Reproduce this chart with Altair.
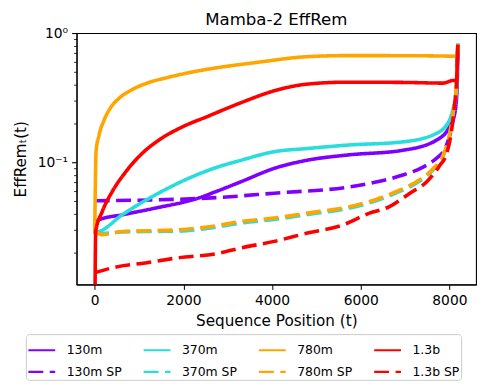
import altair as alt
import pandas as pd

# ---- data ----
t_130m = [0, 96, 618, 1366, 2336, 2710, 3306, 4054, 4800, 5700, 6950, 7700, 8000, 8120, 8170, 8191]
v_130m = [0.034, 0.036, 0.0393, 0.0443, 0.0529, 0.059, 0.071, 0.090, 0.104, 0.114, 0.124, 0.148, 0.188, 0.238, 0.35, 0.82]

t_130m_sp = [0, 1900, 2750, 4050, 5700, 6200, 6950, 7350, 7700, 7860, 7980, 8070, 8150, 8191]
v_130m_sp = [0.0505, 0.0519, 0.0534, 0.0578, 0.0643, 0.0689, 0.0798, 0.090, 0.107, 0.121, 0.15, 0.2, 0.35, 0.82]

t_370m = [0, 96, 618, 1366, 2336, 2710, 3306, 4054, 4800, 5700, 6950, 7700, 8000, 8085, 8150, 8191]
v_370m = [0.0288, 0.0292, 0.0393, 0.056, 0.081, 0.0905, 0.104, 0.121, 0.128, 0.136, 0.144, 0.167, 0.211, 0.26, 0.33, 0.83]

t_370m_sp = [0, 170, 620, 1890, 2750, 3300, 4050, 4800, 5700, 6200, 6800, 7260, 7640, 7860, 8000, 8090, 8160, 8191]
v_370m_sp = [0.0296, 0.0282, 0.0290, 0.0294, 0.0316, 0.0340, 0.0362, 0.0395, 0.0440, 0.0486, 0.0580, 0.0692, 0.088, 0.112, 0.16, 0.25, 0.42, 0.83]

t_780m = [0, 30, 96, 208, 358, 544, 842, 1216, 1664, 2336, 2710, 3680, 4800, 5700, 7000, 8120, 8160, 8191]
v_780m = [0.028, 0.121, 0.162, 0.211, 0.265, 0.312, 0.365, 0.414, 0.455, 0.510, 0.536, 0.594, 0.657, 0.669, 0.668, 0.661, 0.66, 0.82]

t_780m_sp = [0, 170, 620, 1890, 2750, 3300, 4050, 4800, 5700, 6200, 6800, 7260, 7640, 7860, 8000, 8090, 8160, 8191]
v_780m_sp = [0.0296, 0.0276, 0.0292, 0.0301, 0.0324, 0.0349, 0.0371, 0.0405, 0.0451, 0.0498, 0.0594, 0.0709, 0.090, 0.114, 0.162, 0.25, 0.40, 0.82]

t_13b = [0, 22, 170, 394, 694, 1066, 1514, 1962, 2564, 3306, 4054, 4800, 5700, 7000, 7860, 8085, 8160, 8191]
v_13b = [0.004, 0.0292, 0.0417, 0.0594, 0.0840, 0.117, 0.154, 0.187, 0.228, 0.290, 0.358, 0.403, 0.417, 0.415, 0.41, 0.43, 0.43, 0.81]

t_13b_sp = [0, 395, 1140, 1890, 2750, 3300, 4050, 4800, 5550, 6200, 6650, 7110, 7490, 7790, 7940, 8050, 8115, 8165, 8191]
v_13b_sp = [0.0140, 0.0153, 0.0167, 0.0183, 0.0197, 0.0218, 0.0245, 0.0284, 0.0324, 0.0405, 0.0455, 0.0578, 0.0709, 0.0953, 0.117, 0.177, 0.276, 0.42, 0.81]

series_names = ["130m", "130m SP", "370m", "370m SP", "780m", "780m SP", "1.3b", "1.3b SP"]
series_t = [t_130m, t_130m_sp, t_370m, t_370m_sp, t_780m, t_780m_sp, t_13b, t_13b_sp]
series_v = [v_130m, v_130m_sp, v_370m, v_370m_sp, v_780m, v_780m_sp, v_13b, v_13b_sp]

series_colors = ["#8000ff", "#8000ff", "#2adddd", "#2adddd",
                 "#ffa500", "#ffa500", "#ff0000", "#ff0000"]
series_dashes = [[1, 0], [15, 6.5], [1, 0], [15, 6.5],
                 [1, 0], [15, 6.5], [1, 0], [15, 6.5]]

rows = []
for k, (name, ts, vs) in enumerate(zip(series_names, series_t, series_v)):
    for i, (t, v) in enumerate(zip(ts, vs)):
        rows.append({"t": t, "v": v, "series": name, "draw": k, "idx": i})
df = pd.DataFrame(rows)

y_ticks = [0.02, 0.03, 0.04, 0.05, 0.06, 0.07, 0.08, 0.09,
           0.2, 0.3, 0.4, 0.5, 0.6, 0.7, 0.8, 0.9, 0.1, 1.0]

FONT = "DejaVu Sans"

legend_kw = dict(title=None, orient="none", legendX=-51, legendY=303,
                 columns=4, symbolType="stroke", symbolSize=729,
                 symbolStrokeWidth=2.2, labelFontSize=12.5, labelOffset=10,
                 columnPadding=17, rowPadding=-2, padding=1,
                 strokeColor="#cccccc", fillColor="white", cornerRadius=3,
                 gridAlign="all", labelFont=FONT, labelColor="black")

chart = alt.Chart(df).mark_line(strokeWidth=3.6, clip=True, strokeCap="butt",
                                interpolate="monotone").encode(
    x=alt.X("t:Q", title="Sequence Position (t)",
            scale=alt.Scale(domain=[-410, 8601], nice=False, zero=False),
            axis=alt.Axis(values=[0, 2000, 4000, 6000, 8000], format="d", grid=False,
                          tickSize=5, labelPadding=4, titlePadding=6, labelFlush=False,
                          labelFontSize=13.9, titleFontSize=15.3)),
    y=alt.Y("v:Q", title="EffRemₜ(t)",
            scale=alt.Scale(type="log", domain=[0.01138, 1.0], nice=False),
            axis=alt.Axis(values=y_ticks, grid=False, labelOverlap=False, labelFlush=False,
                          labelExpr="datum.value == 1 ? '10⁰' : (datum.value == 0.1 ? '10⁻¹' : '')",
                          tickSize={"condition": {"test": "datum.value == 1 || datum.value == 0.1", "value": 5}, "value": 3},
                          tickWidth={"condition": {"test": "datum.value == 1 || datum.value == 0.1", "value": 1.1}, "value": 0.8},
                          labelPadding=4, titlePadding=9,
                          labelFontSize=13.9, titleFontSize=15.3)),
    color=alt.Color("series:N", scale=alt.Scale(domain=series_names, range=series_colors),
                    legend=alt.Legend(**legend_kw)),
    strokeDash=alt.StrokeDash("series:N", scale=alt.Scale(domain=series_names, range=series_dashes),
                              legend=alt.Legend(**legend_kw)),
    detail="draw:O",
    order="idx:Q",
).properties(
    width=402, height=253,
    title=alt.Title("Mamba-2 EffRem", fontSize=16.7, fontWeight="normal", font=FONT,
                    color="black", offset=-3, frame="group", anchor="middle"),
    autosize=alt.AutoSizeParams(type="none"),
    padding={"left": 69, "top": 24, "right": 5, "bottom": 100},
).configure_view(
    stroke="black", strokeWidth=1.1
).configure_axis(
    domainColor="black", domainWidth=1.1, tickColor="black", labelColor="black",
    titleColor="black", labelFont=FONT, titleFont=FONT, titleFontWeight="normal"
)

chart.save("out.html", embed_options={"renderer": "svg", "actions": False})
